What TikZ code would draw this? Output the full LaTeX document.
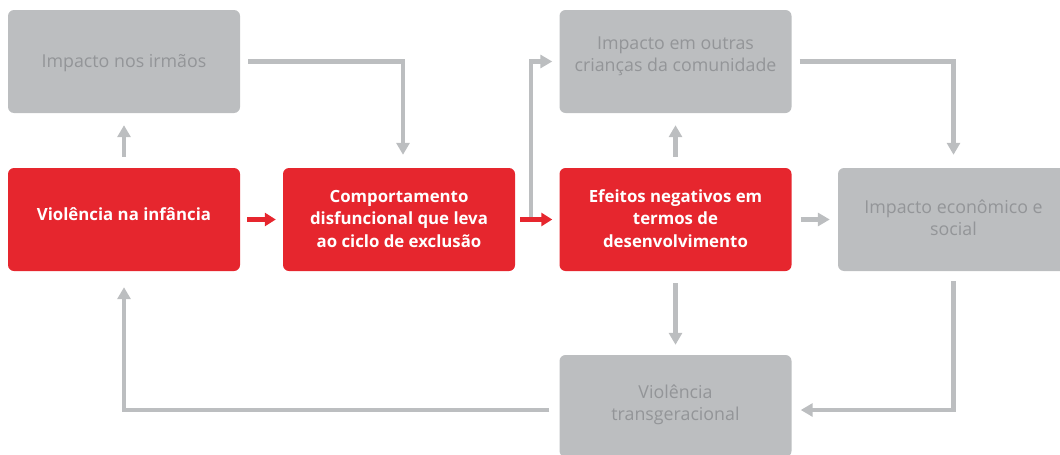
\documentclass[tikz,border=0pt]{standalone}
\usepackage{fontspec}
\setmainfont{Open Sans}
\usetikzlibrary{arrows.meta}
\definecolor{boxred}{HTML}{E6262E}
\definecolor{boxgray}{HTML}{BCBEC0}
\definecolor{txtgray}{HTML}{939598}
\tikzset{
	redbox/.style={fill=boxred,text=white,rounded corners=6pt,minimum width=232pt,minimum height=103pt,align=center,text height=58pt,text depth=3pt,font=\bfseries\fontsize{16.8}{22.5}\selectfont},
	graybox/.style={fill=boxgray,text=txtgray,rounded corners=6pt,minimum width=232pt,minimum height=103pt,align=center,text depth=0pt,font=\fontsize{17.8}{22}\selectfont},
	grayline/.style={draw=boxgray,line width=4.5pt,-{Triangle[length=12pt,width=13pt]}},
	redline/.style={draw=boxred,line width=4.5pt,-{Triangle[length=11pt,width=13pt]}}
}
\begin{document}
\begin{tikzpicture}[x=1pt,y=-1pt]
	\useasboundingbox (0,0) rectangle (1060,455);
	\node[graybox,text height=13pt,text depth=0.6pt] (0) at (124,61.5) {Impacto nos irmãos};
	\node[graybox,text height=19pt] (1) at (675.5,61.5) {Impacto em outras\\crianças da comunidade};
	\node[redbox,text height=13pt,text depth=12pt] (2) at (124,219.5) {Violência na infância};
	\node[redbox] (3) at (399,219.5) {Comportamento\\disfuncional que leva\\ao ciclo de exclusão};
	\node[redbox] (4) at (675.5,219.5) {Efeitos negativos em\\termos de\\desenvolvimento};
	\node[graybox,text height=32pt,minimum width=231pt] (5) at (953.5,219.5) {Impacto econômico e\\social};
	\node[graybox,text height=28pt,minimum height=102pt] (6) at (675.5,406) {Violência\\transgeracional};
	\coordinate (7) at (531,219.5);
	\draw[grayline,shorten <=11pt,shorten >=12pt] (2)--(0);
	\draw[grayline,shorten >=13pt] ([xshift=8pt]0.east) -| ([xshift=4pt]3.north);
	\draw[grayline] (7) |- ([xshift=-7pt]1.west);
	\draw[redline,shorten <=7pt,shorten >=7pt] (2)--(3);
	\draw[redline,shorten <=5pt,shorten >=7pt] (3)--(4);
	\draw[grayline,shorten <=11pt,shorten >=12pt] (4)--(1);
	\draw[grayline,shorten >=13pt] ([xshift=8pt]1.east) -| (5.north);
	\draw[grayline,shorten <=9pt,shorten >=8pt] (4)--(5);
	\draw[grayline,shorten <=12pt,shorten >=10pt] (4)--(6);
	\draw[grayline] ([yshift=-10pt]5.south) |- ([xshift=9pt,yshift=-4pt]6.east);
	\draw[grayline,shorten >=16pt] ([xshift=-10pt,yshift=-4pt]6.west) -| (2.south);
\end{tikzpicture}
\end{document}
